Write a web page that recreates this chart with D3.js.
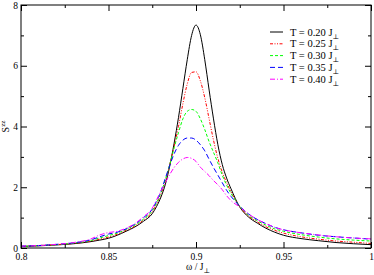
<!DOCTYPE html>
<html>
<head>
<meta charset="utf-8">
<script src="https://cdn.jsdelivr.net/npm/d3@7"></script>
<style>
  html, body { margin: 0; padding: 0; background: #fff; }
  svg text { font-family: "Liberation Serif", "DejaVu Serif", serif; fill: #000; }
</style>
</head>
<body>
<svg id="chart" width="374" height="275"></svg>
<script>
// omega / J_perp grid shared by every curve
const omega = [
  0.80, 0.81, 0.82, 0.83, 0.84, 0.845, 0.85, 0.855, 0.86, 0.865, 0.87,
  0.875, 0.8775, 0.88, 0.8825, 0.885, 0.8875, 0.89, 0.8925, 0.895, 0.8975,
  0.90, 0.9025, 0.905, 0.9075, 0.91, 0.9125, 0.915, 0.9175, 0.92, 0.925,
  0.93, 0.935, 0.94, 0.945, 0.95, 0.96, 0.97, 0.98, 0.99, 1.00
];

// S^zz, one array per temperature
const sT020 = [
  0.05, 0.07, 0.10, 0.14, 0.21, 0.26, 0.32, 0.42, 0.55, 0.69, 0.88,
  1.13, 1.37, 1.68, 2.10, 2.70, 3.45, 4.30, 5.25, 6.20, 7.00,
  7.34, 7.02, 6.20, 5.20, 4.25, 3.40, 2.75, 2.30, 1.95, 1.35,
  1.02, 0.82, 0.65, 0.52, 0.42, 0.31, 0.24, 0.18, 0.14, 0.11
];
const sT025 = [
  0.05, 0.08, 0.11, 0.15, 0.23, 0.29, 0.36, 0.45, 0.58, 0.72, 0.92,
  1.19, 1.45, 1.78, 2.20, 2.75, 3.35, 4.00, 4.75, 5.40, 5.78,
  5.80, 5.50, 4.95, 4.25, 3.55, 2.95, 2.50, 2.15, 1.85, 1.35,
  1.05, 0.86, 0.70, 0.58, 0.49, 0.37, 0.29, 0.23, 0.19, 0.15
];
const sT030 = [
  0.05, 0.08, 0.11, 0.16, 0.25, 0.33, 0.41, 0.49, 0.61, 0.75, 0.95,
  1.23, 1.49, 1.82, 2.25, 2.75, 3.30, 3.80, 4.25, 4.50, 4.56,
  4.50, 4.25, 3.90, 3.50, 3.15, 2.80, 2.40, 2.07, 1.80, 1.37,
  1.08, 0.90, 0.75, 0.63, 0.55, 0.44, 0.36, 0.30, 0.26, 0.23
];
const sT035 = [
  0.06, 0.08, 0.12, 0.17, 0.27, 0.37, 0.46, 0.52, 0.63, 0.78, 1.00,
  1.28, 1.55, 1.88, 2.30, 2.72, 3.10, 3.38, 3.55, 3.62, 3.62,
  3.55, 3.40, 3.20, 2.92, 2.65, 2.40, 2.15, 1.90, 1.70, 1.38,
  1.12, 0.94, 0.80, 0.68, 0.60, 0.50, 0.42, 0.37, 0.33, 0.29
];
const sT040 = [
  0.06, 0.08, 0.12, 0.18, 0.30, 0.43, 0.51, 0.55, 0.65, 0.80, 1.03,
  1.31, 1.59, 1.88, 2.15, 2.42, 2.65, 2.82, 2.93, 2.98, 2.95,
  2.85, 2.66, 2.52, 2.38, 2.22, 2.08, 1.92, 1.72, 1.56, 1.35,
  1.12, 0.94, 0.80, 0.68, 0.60, 0.50, 0.43, 0.37, 0.33, 0.30
];

const seriesLabels = ["0.20", "0.25", "0.30", "0.35", "0.40"];
const seriesColors = ["#000000", "#ff0000", "#00ff00", "#0000ff", "#ff00ff"];
const seriesDashes = [null, "3,1.5,1,1.5,1,1.5", "3,2", "5,3", "5,2,1,2"];

const xTicks = [0.8, 0.85, 0.9, 0.95, 1];
const xTickLabels = ["0.8", "0.85", "0.9", "0.95", "1"];
const yTicks = [0, 2, 4, 6, 8];

const series = [sT020, sT025, sT030, sT035, sT040].map((vals, i) => ({
  label: seriesLabels[i],
  color: seriesColors[i],
  dash: seriesDashes[i],
  points: vals.map((v, j) => ({ x: omega[j], y: v }))
}));

const svg = d3.select("#chart");
const margin = { left: 21, right: 3, top: 5, bottom: 27 };
const W = 374, H = 275;

const x = d3.scaleLinear().domain([0.8, 1]).range([margin.left, W - margin.right]);
const y = d3.scaleLinear().domain([0, 8]).range([H - margin.bottom, margin.top]);

const plot = svg.append("g");

// Curves
const line = d3.line()
  .x(d => x(d.x))
  .y(d => y(d.y))
  .curve(d3.curveMonotoneX);

series.forEach(s => {
  plot.append("path")
    .datum(s.points)
    .attr("fill", "none")
    .attr("stroke", s.color)
    .attr("stroke-width", 1)
    .attr("stroke-dasharray", s.dash)
    .attr("d", line);
});

// Axes: major + minor ticks on all four sides, pointing inward
const xMinor = [0.825, 0.875, 0.925, 0.975];
const yMinor = [1, 3, 5, 7];
const MAJ = 6, MIN = 3;

svg.append("g").attr("transform", `translate(0,${y(0)})`)
  .call(d3.axisBottom(x).tickValues(xTicks).tickSize(-MAJ).tickPadding(5)
    .tickFormat((d, i) => xTickLabels[i]));
svg.append("g").attr("transform", `translate(0,${y(0)})`)
  .call(d3.axisBottom(x).tickValues(xMinor).tickSize(-MIN).tickFormat(""));
svg.append("g").attr("transform", `translate(0,${y(8)})`)
  .call(d3.axisTop(x).tickValues(xTicks).tickSize(-MAJ).tickFormat(""));
svg.append("g").attr("transform", `translate(0,${y(8)})`)
  .call(d3.axisTop(x).tickValues(xMinor).tickSize(-MIN).tickFormat(""));

svg.append("g").attr("transform", `translate(${x(0.8)},0)`)
  .call(d3.axisLeft(y).tickValues(yTicks).tickSize(-MAJ).tickPadding(3).tickFormat(d3.format("d")));
svg.append("g").attr("transform", `translate(${x(0.8)},0)`)
  .call(d3.axisLeft(y).tickValues(yMinor).tickSize(-MIN).tickFormat(""));
svg.append("g").attr("transform", `translate(${x(1)},0)`)
  .call(d3.axisRight(y).tickValues(yTicks).tickSize(-MAJ).tickFormat(""));
svg.append("g").attr("transform", `translate(${x(1)},0)`)
  .call(d3.axisRight(y).tickValues(yMinor).tickSize(-MIN).tickFormat(""));

svg.selectAll(".domain").remove();
svg.selectAll(".tick line").attr("stroke", "#000").attr("stroke-width", 1);
svg.selectAll(".tick text").attr("font-size", 9.5).attr("font-family", "Liberation Serif");

// Frame
svg.append("rect")
  .attr("x", x(0.8)).attr("y", y(8))
  .attr("width", x(1) - x(0.8)).attr("height", y(0) - y(8))
  .attr("fill", "none").attr("stroke", "#000").attr("stroke-width", 1);

// Axis titles
const xt = svg.append("text")
  .attr("x", x(0.9) + 2).attr("y", 269.5)
  .attr("text-anchor", "middle").attr("font-size", 9.5);
xt.append("tspan").text("ω / J");
xt.append("tspan").attr("font-size", 7).attr("dy", 3).text("⊥");

const yt = svg.append("text")
  .attr("transform", `translate(9,${y(4)}) rotate(-90)`)
  .attr("text-anchor", "middle").attr("font-size", 10);
yt.append("tspan").text("S");
yt.append("tspan").attr("font-size", 7).attr("dy", -4).text("zz");

// Legend
const legend = svg.append("g");
series.forEach((s, i) => {
  const ly = 32 + i * 11.8;
  legend.append("line")
    .attr("x1", 270).attr("x2", 283).attr("y1", ly).attr("y2", ly)
    .attr("stroke", s.color).attr("stroke-width", 1)
    .attr("stroke-dasharray", s.dash);
  const t = legend.append("text")
    .attr("x", 290).attr("y", ly + 3.5).attr("font-size", 10.5);
  t.append("tspan").text(`T = ${s.label} J`);
  t.append("tspan").attr("font-size", 7).attr("dy", 3).text("⊥");
});
</script>
</body>
</html>
